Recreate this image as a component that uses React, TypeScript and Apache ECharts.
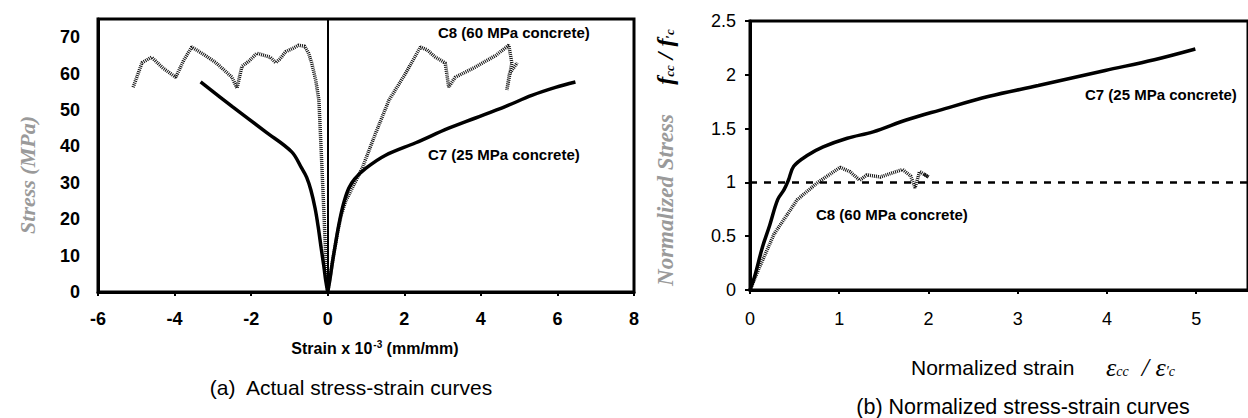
import React, { useEffect, useRef } from "react";
import * as echarts from "echarts";

// ---- data ----
const leftXTicks = { min: -6, max: 8, step: 2 };
const leftYTicks = { min: 0, max: 75, step: 10 };
const rightXTicks = { min: 0, max: 5.58, step: 1 };
const rightYTicks = { min: 0, max: 2.5, step: 0.5 };

const c7AxialActual = [
  [0, 0], [0.05, 3], [0.12, 8], [0.2, 13], [0.3, 19], [0.42, 24.5], [0.55, 28.5], [0.7, 31],
  [1.0, 34], [1.5, 37.5], [2.3, 41], [3.16, 45], [3.86, 47.8], [4.65, 51], [5.33, 54],
  [5.95, 56.2], [6.47, 57.7],
];
const c7LateralActual = [
  [0, 0], [-0.05, 3], [-0.1, 7], [-0.17, 12], [-0.25, 18], [-0.33, 23], [-0.44, 28],
  [-0.55, 31.5], [-0.68, 34], [-0.94, 38.5], [-1.62, 44], [-2.5, 51], [-3.32, 57.7],
];
const c8LateralActual = [
  [0, 0], [-0.03, 5], [-0.06, 12], [-0.1, 22], [-0.15, 34], [-0.23, 52.7], [-0.31, 58],
  [-0.42, 63], [-0.5, 65.6], [-0.6, 67.5], [-0.76, 67.8], [-0.9, 67], [-1.1, 66], [-1.25, 64],
  [-1.36, 63], [-1.5, 64.5], [-1.85, 65.6], [-2.05, 63.5], [-2.24, 62], [-2.37, 56], [-2.5, 59],
  [-2.92, 63], [-3.2, 65], [-3.55, 67.3], [-3.76, 63.7], [-3.97, 59], [-4.3, 61.5], [-4.6, 64.5],
  [-4.85, 63], [-5.09, 56],
];
const c8AxialActual = [
  [0, 0], [0.08, 5], [0.15, 10], [0.25, 16], [0.35, 21], [0.47, 25], [0.9, 34], [1.25, 43.6],
  [1.6, 52.7], [2.03, 60], [2.42, 67.3], [2.6, 66.5], [2.8, 64.6], [3.07, 62.9], [3.16, 56.3],
  [3.33, 59], [3.86, 61.8], [4.39, 65], [4.73, 67.8], [4.81, 62.9], [4.68, 55.5], [4.75, 60],
  [4.95, 63],
];
const c7Normalized = [
  [0, 0], [0.05, 0.12], [0.14, 0.4], [0.22, 0.6], [0.31, 0.84], [0.38, 0.93], [0.43, 1.02],
  [0.49, 1.15], [0.64, 1.25], [0.82, 1.33], [1.09, 1.41], [1.38, 1.47], [1.75, 1.58],
  [2.12, 1.67], [2.68, 1.8], [3.23, 1.9], [3.98, 2.04], [4.53, 2.14], [4.99, 2.24],
];
const c8Normalized = [
  [0, 0], [0.1, 0.2], [0.27, 0.52], [0.4, 0.68], [0.53, 0.84], [0.76, 1.0], [1.01, 1.14],
  [1.12, 1.1], [1.23, 1.02], [1.31, 1.07], [1.46, 1.05], [1.6, 1.09], [1.71, 1.12], [1.8, 1.06],
  [1.85, 0.95], [1.9, 1.1], [2.0, 1.05], [1.95, 1.08],
];
const referenceLevel = 1;

const labels = {
  c7: "C7 (25 MPa concrete)",
  c8: "C8 (60 MPa concrete)",
  captionA: "(a)  Actual stress-strain curves",
  captionB: "(b) Normalized stress-strain curves",
};

const SANS = "Liberation Sans, Arial, sans-serif";
const SERIF = "Liberation Serif, Times New Roman, serif";

export default function App() {
  const ref = useRef<HTMLDivElement>(null);
  useEffect(() => {
    if (!ref.current) return;
    const chart = echarts.init(ref.current, null, { renderer: "svg" });

    const solid = { color: "#000", width: 3.5 };
    const hatched = { color: "#111", width: 3.5, type: [1, 1] as any };
    const axisLineStyle = { color: "#000", width: 3 };

    const option: any = {
      animation: false,
      backgroundColor: "#fff",
      grid: [
        { left: 98, top: 19, width: 536, height: 273, show: true, borderColor: "#000", borderWidth: 3 },
        { left: 750, top: 21, right: -4, height: 269, show: true, borderColor: "#000", borderWidth: 3 },
      ],
      xAxis: [
        {
          gridIndex: 0, type: "value", min: leftXTicks.min, max: leftXTicks.max, interval: leftXTicks.step,
          axisLine: { onZero: false, lineStyle: axisLineStyle },
          axisTick: { show: true, inside: false, length: 4, lineStyle: { color: "#000", width: 2 } },
          splitLine: { show: false },
          axisLabel: { color: "#000", fontFamily: SANS, fontWeight: "bold", fontSize: 18, margin: 18 },
        },
        {
          gridIndex: 1, type: "value", min: rightXTicks.min, max: rightXTicks.max, interval: rightXTicks.step,
          axisLine: { onZero: false, lineStyle: axisLineStyle },
          axisTick: { show: true, inside: false, length: 4, lineStyle: { color: "#000", width: 2 } },
          splitLine: { show: false },
          axisLabel: { color: "#000", fontFamily: SANS, fontSize: 18, margin: 20, showMaxLabel: false },
        },
      ],
      yAxis: [
        {
          gridIndex: 0, type: "value", min: leftYTicks.min, max: leftYTicks.max, interval: leftYTicks.step,
          axisLine: { show: true, onZero: false, lineStyle: axisLineStyle },
          axisTick: { show: false },
          splitLine: { show: false },
          axisLabel: { color: "#000", fontFamily: SANS, fontWeight: "bold", fontSize: 18, margin: 18, showMaxLabel: false },
        },
        {
          gridIndex: 1, type: "value", min: rightYTicks.min, max: rightYTicks.max, interval: rightYTicks.step,
          axisLine: { show: true, onZero: false, lineStyle: axisLineStyle },
          axisTick: { show: true, inside: false, length: 5, lineStyle: { color: "#000", width: 2 } },
          splitLine: { show: false },
          axisLabel: { color: "#000", fontFamily: SANS, fontSize: 18, margin: 14 },
        },
      ],
      series: [
        {
          type: "line", xAxisIndex: 0, yAxisIndex: 0, data: c8LateralActual, showSymbol: false,
          lineStyle: hatched, z: 3,
          markLine: {
            silent: true, symbol: "none", label: { show: false },
            lineStyle: { color: "#000", width: 2, type: "solid" },
            data: [{ xAxis: 0 }],
          },
        },
        { type: "line", xAxisIndex: 0, yAxisIndex: 0, data: c8AxialActual, showSymbol: false, lineStyle: hatched, z: 3 },
        { type: "line", xAxisIndex: 0, yAxisIndex: 0, data: c7LateralActual, showSymbol: false, smooth: 0.35, lineStyle: solid, z: 4 },
        { type: "line", xAxisIndex: 0, yAxisIndex: 0, data: c7AxialActual, showSymbol: false, smooth: 0.35, lineStyle: solid, z: 4 },
        {
          type: "line", xAxisIndex: 1, yAxisIndex: 1, data: c7Normalized, showSymbol: false, smooth: 0.35, lineStyle: solid, z: 4,
          markLine: {
            silent: true, symbol: "none", label: { show: false },
            lineStyle: { color: "#000", width: 2.5, type: [7, 7] },
            data: [{ yAxis: referenceLevel }],
          },
        },
        { type: "line", xAxisIndex: 1, yAxisIndex: 1, data: c8Normalized, showSymbol: false, lineStyle: hatched, z: 3 },
      ],
      graphic: [
        // left chart annotations
        { type: "text", left: 438, top: 25, style: { text: labels.c8, font: `bold 15px ${SANS}`, fill: "#000" } },
        { type: "text", left: 428, top: 147, style: { text: labels.c7, font: `bold 15px ${SANS}`, fill: "#000" } },
        {
          type: "text", x: 375, y: 348,
          style: {
            text: "{b|Strain x 10}{s|-3}{b| (mm/mm)}", align: "center", verticalAlign: "middle",
            rich: {
              b: { font: `bold 16px ${SANS}`, fill: "#000" },
              s: { font: `bold 10px ${SANS}`, fill: "#000", verticalAlign: "top", padding: [0, 0, 8, 1] },
            },
          },
        },
        { type: "text", x: 351, y: 387, style: { text: labels.captionA, align: "center", verticalAlign: "middle", font: `21px ${SANS}`, fill: "#000" } },
        {
          type: "text", x: 27, y: 175, rotation: Math.PI / 2,
          style: { text: "Stress (MPa)", align: "center", verticalAlign: "middle", font: `italic bold 22px ${SERIF}`, fill: "#9a9a9a" },
        },
        // right chart annotations
        { type: "text", left: 1085, top: 87, style: { text: labels.c7, font: `bold 15px ${SANS}`, fill: "#000" } },
        { type: "text", left: 816, top: 207, style: { text: labels.c8, font: `bold 15px ${SANS}`, fill: "#000" } },
        {
          type: "text", x: 911, y: 367,
          style: { text: "Normalized strain", align: "left", verticalAlign: "middle", font: `21px ${SANS}`, fill: "#000" },
        },
        {
          type: "text", x: 1106, y: 367,
          style: {
            text: "{e|ε}{s|cc}{e|  / ε}{s|′c}", align: "left", verticalAlign: "middle",
            rich: {
              e: { font: `italic 26px ${SERIF}`, fill: "#000" },
              s: { font: `italic 14px ${SERIF}`, fill: "#000", padding: [8, 0, 0, 0] },
            },
          },
        },
        { type: "text", x: 1023, y: 407, style: { text: labels.captionB, align: "center", verticalAlign: "middle", font: `21.5px ${SANS}`, fill: "#000" } },
        {
          type: "text", x: 665, y: 200, rotation: Math.PI / 2,
          style: { text: "Normalized Stress", align: "center", verticalAlign: "middle", font: `italic bold 23px ${SERIF}`, fill: "#9a9a9a" },
        },
        {
          type: "text", x: 665, y: 57, rotation: Math.PI / 2,
          style: {
            text: "{f|f}{s|cc}{f| / f}{s|′c}", align: "center", verticalAlign: "middle",
            rich: {
              f: { font: `italic bold 24px ${SERIF}`, fill: "#000" },
              s: { font: `italic bold 13px ${SERIF}`, fill: "#000", padding: [8, 0, 0, 0] },
            },
          },
        },
      ],
    };
    chart.setOption(option);
    return () => chart.dispose();
  }, []);
  return (
    <div
      ref={ref}
      style={{ position: "absolute", left: 0, top: 0, width: 1248, height: 418, background: "#fff" }}
    />
  );
}
